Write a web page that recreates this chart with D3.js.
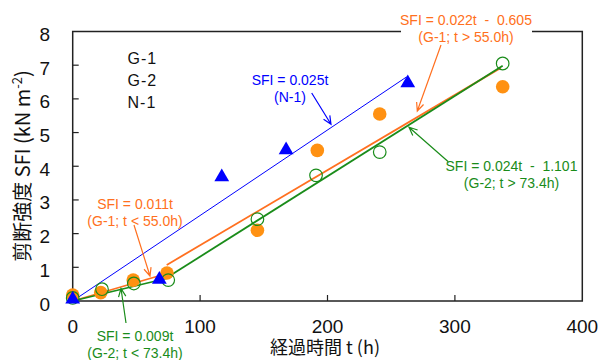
<!DOCTYPE html>
<html>
<head>
<meta charset="utf-8">
<script src="https://cdn.jsdelivr.net/npm/d3@7"></script>
<style>
  body { margin: 0; background: #fff; }
  text { font-family: 'Liberation Sans', Arial, sans-serif; }
</style>
</head>
<body>
<div id="chart"></div>
<script>
const seriesNames = ['G-1', 'G-2', 'N-1'];
const g1Time = [0, 22, 47.5, 74, 145, 192, 241, 337.5];
const g1Sfi = [0.18, 0.25, 0.62, 0.83, 2.1, 4.47, 5.55, 6.36];
const g2Time = [0, 23, 48, 75, 145, 191, 241, 337.5];
const g2Sfi = [0.09, 0.35, 0.52, 0.62, 2.43, 3.73, 4.42, 7.05];
const n1Time = [0, 68, 117, 167.5, 263];
const n1Sfi = [0.05, 0.64, 3.68, 4.48, 6.47];

// fitted segments (start / end points)
const n1Fit = [[0, 0], [262, 6.65]];
const g1FitLow = [[0, 0], [70, 0.77]];
const g1FitHigh = [[73.8, 1.07], [336, 6.92]];
const g2FitLow = [[0, 0], [75, 0.68]];
const g2FitHigh = [[75, 0.72], [337.5, 6.98]];

const xTicks = [0, 100, 200, 300, 400];
const yTicks = [0, 1, 2, 3, 4, 5, 6, 7, 8];

const blue = '#0000ff';
const orangeFill = '#ff9112';
const orange = '#ff7020';
const green = '#1a8c1a';

const W = 606, H = 360;
const margin = { top: 31.5, right: 23.7, bottom: 59, left: 72.7 };

const svg = d3.select('#chart').append('svg')
    .attr('width', W)
    .attr('height', H);

const x = d3.scaleLinear().domain([0, 400]).range([margin.left, W - margin.right]);
const y = d3.scaleLinear().domain([0, 8]).range([H - margin.bottom, margin.top]);

// frame
svg.append('rect')
    .attr('x', x(0)).attr('y', y(8))
    .attr('width', x(400) - x(0)).attr('height', y(0) - y(8))
    .attr('fill', 'none').attr('stroke', '#222').attr('stroke-width', 1.5);

// inner ticks
svg.append('g').selectAll('line')
  .data(yTicks.slice(1, -1))
  .enter().append('line')
    .attr('x1', x(0)).attr('x2', x(0) + 6)
    .attr('y1', d => y(d)).attr('y2', d => y(d))
    .attr('stroke', '#222').attr('stroke-width', 1.2);

svg.append('g').selectAll('line')
  .data(xTicks.slice(1, -1))
  .enter().append('line')
    .attr('x1', d => x(d)).attr('x2', d => x(d))
    .attr('y1', y(0)).attr('y2', y(0) - 6)
    .attr('stroke', '#222').attr('stroke-width', 1.2);

// tick labels
svg.append('g').selectAll('text')
  .data(yTicks)
  .enter().append('text')
    .attr('x', 50)
    .attr('y', d => y(d) + 3)
    .attr('text-anchor', 'end')
    .attr('dominant-baseline', 'central')
    .attr('font-size', '19px')
    .attr('fill', '#111')
    .text(d => d);

svg.append('g').selectAll('text')
  .data(xTicks)
  .enter().append('text')
    .attr('x', d => x(d))
    .attr('y', 333)
    .attr('text-anchor', 'middle')
    .attr('font-size', '19px')
    .attr('fill', '#111')
    .text(d => d);

// axis titles
svg.append('text')
    .attr('x', 325).attr('y', 354)
    .attr('text-anchor', 'middle')
    .attr('font-size', '18px')
    .attr('fill', '#111')
    .style('font-family', "'Noto Sans CJK JP', sans-serif")
    .text('経過時間 t (h)');

const yTitle = svg.append('text')
    .attr('transform', 'translate(30,166) rotate(-90)')
    .attr('text-anchor', 'middle')
    .attr('font-size', '20px')
    .attr('fill', '#111')
    .style('font-family', "'Noto Sans CJK JP', sans-serif");
yTitle.append('tspan').text('剪断強度 SFI (kN m');
yTitle.append('tspan').attr('dy', -8).attr('font-size', '13px').text('-2');
yTitle.append('tspan').attr('dy', 8).text(')');

// legend (text only, as in the reference)
svg.append('g').selectAll('text')
  .data(seriesNames)
  .enter().append('text')
    .attr('x', 127.5)
    .attr('y', (d, i) => 64 + i * 22)
    .attr('font-size', '16px')
    .attr('letter-spacing', '1px')
    .attr('fill', '#111')
    .text(d => d);

// fit lines
const line = d3.line().x(d => x(d[0])).y(d => y(d[1]));
const fits = [
  { pts: n1Fit, color: blue, w: 1 },
  { pts: g1FitLow, color: orange, w: 1.6 },
  { pts: g2FitLow, color: green, w: 1.6 },
  { pts: g1FitHigh, color: orange, w: 1.8 },
  { pts: g2FitHigh, color: green, w: 1.8 }
];
svg.append('g').selectAll('path')
  .data(fits)
  .enter().append('path')
    .attr('d', d => line(d.pts))
    .attr('fill', 'none')
    .attr('stroke', d => d.color)
    .attr('stroke-width', d => d.w);

// markers
const g1 = g1Time.map((t, i) => [t, g1Sfi[i]]);
const g2 = g2Time.map((t, i) => [t, g2Sfi[i]]);
const n1 = n1Time.map((t, i) => [t, n1Sfi[i]]);

svg.append('g').selectAll('circle')
  .data(g1)
  .enter().append('circle')
    .attr('cx', d => x(d[0])).attr('cy', d => y(d[1]))
    .attr('r', 6.8)
    .attr('fill', orangeFill);

svg.append('g').selectAll('circle')
  .data(g2)
  .enter().append('circle')
    .attr('cx', d => x(d[0])).attr('cy', d => y(d[1]))
    .attr('r', 6.3)
    .attr('fill', 'none')
    .attr('stroke', green)
    .attr('stroke-width', 1.2);

const tri = d3.symbol().type(d3.symbolTriangle).size(95);
svg.append('g').selectAll('path')
  .data(n1)
  .enter().append('path')
    .attr('transform', d => `translate(${x(d[0])},${y(d[1])})`)
    .attr('d', tri)
    .attr('fill', blue);

// annotations
const notes = [
  { lines: ['SFI = 0.025t', '(N-1)'], cx: 290, y0: 85, color: blue,
    arrow: [[311.7, 93], [331, 124.3]], mask: false },
  { lines: ['SFI = 0.022t  -  0.605', '(G-1; t > 55.0h)'], cx: 466, y0: 25, color: orange,
    arrow: [[441, 45], [417.3, 111]], mask: true },
  { lines: ['SFI = 0.024t  -  1.101', '(G-2; t > 73.4h)'], cx: 511.5, y0: 171, color: green,
    arrow: [[448.3, 161.7], [409, 127.3]], mask: false },
  { lines: ['SFI = 0.011t', '(G-1; t < 55.0h)'], cx: 135, y0: 209, color: orange,
    arrow: [[134, 225], [150, 276]], mask: false },
  { lines: ['SFI = 0.009t', '(G-2; t < 73.4h)'], cx: 135, y0: 341, color: green,
    arrow: [[126, 323], [121, 288.5]], mask: false }
];

notes.forEach(n => {
  const g = svg.append('g');
  if (n.mask) {
    g.append('rect')
      .attr('x', 401).attr('y', 8)
      .attr('width', 131).attr('height', 40)
      .attr('fill', '#fff');
  }
  n.lines.forEach((s, i) => {
    g.append('text')
      .attr('x', n.cx)
      .attr('y', n.y0 + i * 17)
      .attr('text-anchor', 'middle')
      .attr('font-size', '14px')
      .attr('fill', n.color)
      .attr('xml:space', 'preserve')
      .style('white-space', 'pre')
      .text(s);
  });
  const [a, b] = n.arrow;
  const ang = Math.atan2(b[1] - a[1], b[0] - a[0]);
  const len = 9, spread = 0.42;
  const h1 = [b[0] - len * Math.cos(ang - spread), b[1] - len * Math.sin(ang - spread)];
  const h2 = [b[0] - len * Math.cos(ang + spread), b[1] - len * Math.sin(ang + spread)];
  g.append('path')
    .attr('d', `M${a[0]},${a[1]}L${b[0]},${b[1]}M${h1[0]},${h1[1]}L${b[0]},${b[1]}L${h2[0]},${h2[1]}`)
    .attr('fill', 'none')
    .attr('stroke', n.color)
    .attr('stroke-width', 1.2);
});
</script>
</body>
</html>
